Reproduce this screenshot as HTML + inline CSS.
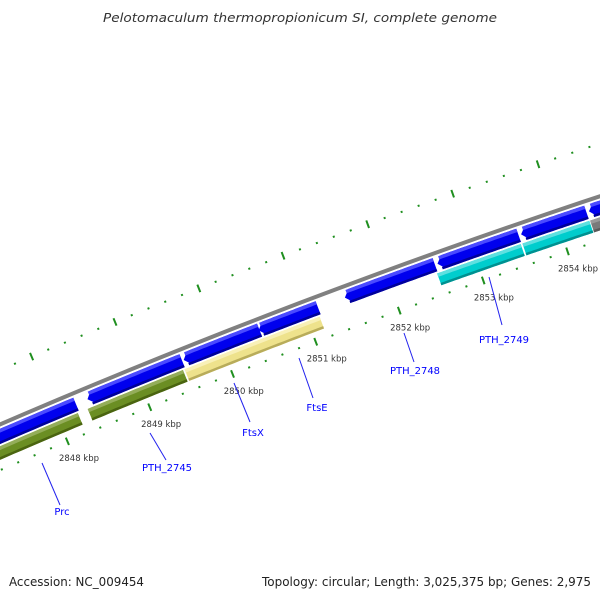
<!DOCTYPE html>
<html><head><meta charset="utf-8"><style>
html,body{margin:0;padding:0;background:#fff;}
svg{display:block;}
</style></head><body>
<svg id="map" width="600" height="600" viewBox="0 0 600 600" xmlns="http://www.w3.org/2000/svg" font-family="'DejaVu Sans','Liberation Sans',sans-serif">
<rect width="600" height="600" fill="#fff"/>
<text x="300" y="22" text-anchor="middle" font-size="12.5" font-style="italic" fill="#333" textLength="394" lengthAdjust="spacingAndGlyphs">Pelotomaculum thermopropionicum SI, complete genome</text>
<g id="ticks"></g>
<g id="features"></g>
<g id="gene-labels" font-size="10" fill="#0000ff">
  <line x1="42" y1="463" x2="60" y2="505" stroke="#2222ee" stroke-width="1"/>
  <text x="62" y="515" text-anchor="middle">Prc</text>
  <line x1="150" y1="433" x2="166" y2="460" stroke="#2222ee" stroke-width="1"/>
  <text x="167" y="471" text-anchor="middle">PTH_2745</text>
  <line x1="234" y1="383" x2="250" y2="422" stroke="#2222ee" stroke-width="1"/>
  <text x="253" y="436" text-anchor="middle">FtsX</text>
  <line x1="299" y1="358" x2="313" y2="398" stroke="#2222ee" stroke-width="1"/>
  <text x="317" y="411" text-anchor="middle">FtsE</text>
  <line x1="404" y1="333" x2="414" y2="362" stroke="#2222ee" stroke-width="1"/>
  <text x="415" y="374" text-anchor="middle">PTH_2748</text>
  <line x1="489" y1="277" x2="502" y2="325" stroke="#2222ee" stroke-width="1"/>
  <text x="504" y="343" text-anchor="middle">PTH_2749</text>
</g>
<text x="9" y="586" font-size="12" fill="#222" textLength="135" lengthAdjust="spacingAndGlyphs">Accession: NC_009454</text>
<text x="591" y="586" text-anchor="end" font-size="12" fill="#222" textLength="329" lengthAdjust="spacingAndGlyphs">Topology: circular; Length: 3,025,375 bp; Genes: 2,975</text>
</svg>
<script>
// data (kbp)
const majorTicks = [2848, 2849, 2850, 2851, 2852, 2853, 2854];
const tickLabels = ["2848 kbp","2849 kbp","2850 kbp","2851 kbp","2852 kbp","2853 kbp","2854 kbp"];
const revStarts = [2846.0, 2848.39, 2849.55, 2850.45, 2851.48, 2852.58, 2853.57, 2854.37];
const revEnds   = [2848.25, 2849.53, 2850.46, 2851.16, 2852.55, 2853.54, 2854.34, 2856.0];
const fwdStarts = [2846.0, 2848.35, 2849.52, 2852.54, 2853.55, 2854.35];
const fwdEnds   = [2848.23, 2849.50, 2851.14, 2853.53, 2854.34, 2856.0];
const fwdKinds  = ["olive","olive","yellow","cyan","cyan","gray"];

const NS = "http://www.w3.org/2000/svg";
const CX = 2908, CY = 7166, R0 = 7300, PHI0 = -112.9, K = 0.7;
function pt(b, d) {
  const a = (PHI0 + (b - 2848) * K) * Math.PI / 180;
  return [CX + (R0 + d) * Math.cos(a), CY + (R0 + d) * Math.sin(a)];
}
function mk(tag, attrs, parent) {
  const e = document.createElementNS(NS, tag);
  for (const k in attrs) e.setAttribute(k, attrs[k]);
  parent.appendChild(e);
  return e;
}
function arcPts(b1, b2, d) {
  const out = [], n = 24;
  for (let i = 0; i <= n; i++) out.push(pt(b1 + (b2 - b1) * i / n, d));
  return out;
}
function bandPoly(b1, b2, d1, d2, tip) {
  let p = [];
  if (tip) p.push(pt(b1, (d1 + d2) / 2));
  p = p.concat(arcPts(b1 + tip, b2, d2));
  p = p.concat(arcPts(b1 + tip, b2, d1).reverse());
  return p.map(q => q[0].toFixed(1) + "," + q[1].toFixed(1)).join(" ");
}
const tg = document.getElementById("ticks");
const fg = document.getElementById("features");

const bb = mk("polyline", {points: arcPts(2846, 2856, 42).map(q => q.join(",")).join(" "), fill: "none", stroke: "#808080", "stroke-width": 4}, fg);



function tick(b, d, len, w) {
  const a = pt(b, d - len), c = pt(b, d + len);
  return mk("line", {x1: a[0], y1: a[1], x2: c[0], y2: c[1], stroke: "#1f8f1f", "stroke-width": w}, tg);
}
for (let i = 0; i <= 45; i++) {
  const b = 2846 + i * 0.2;
  const major = Math.abs(b - Math.round(b)) < 1e-6;
  [0, 92].forEach(d => {
    const l = tick(b, d, major ? 4 : 1, 2);
    
    
  });
}
majorTicks.forEach((b, i) => {
  const p = pt(b, -17);
  const t = mk("text", {x: p[0] + 5, y: p[1] + 4, "text-anchor": "middle", "font-size": 8.5, fill: "#333"}, tg);
  t.textContent = tickLabels[i];
  
  
});

const pal = {
  blue: ["#0000ee", "#4a4aff", "#00009a"],
  olive: ["#6b8e23", "#94ad5a", "#4a6410"],
  yellow: ["#eee28c", "#f8f0b8", "#b8ac5a"],
  cyan: ["#00cdcd", "#5ee0e0", "#009090"],
  gray: ["#7a7a7a", "#9a9a9a", "#5a5a5a"]
};
function feature(b1, b2, d1, d2, tip, kind, name) {
  const c = pal[kind];
  const g = mk("g", {}, fg);
  
  
  mk("polygon", {points: bandPoly(b1, b2, d1, d2, tip), fill: c[0]}, g);
  mk("polygon", {points: bandPoly(b1 + tip * 0.5, b2, d2 - 3.5, d2, 0), fill: c[1]}, g);
  mk("polygon", {points: bandPoly(b1 + tip * 0.5, b2, d1, d1 + 2.5, 0), fill: c[2]}, g);
}
revStarts.forEach((s, i) => feature(s, revEnds[i], 24, 38, 0.07, "blue", "reverse-gene"));
fwdStarts.forEach((s, i) => feature(s, fwdEnds[i], 9.5, 22, 0, fwdKinds[i], "forward-gene"));
</script>
</body></html>
